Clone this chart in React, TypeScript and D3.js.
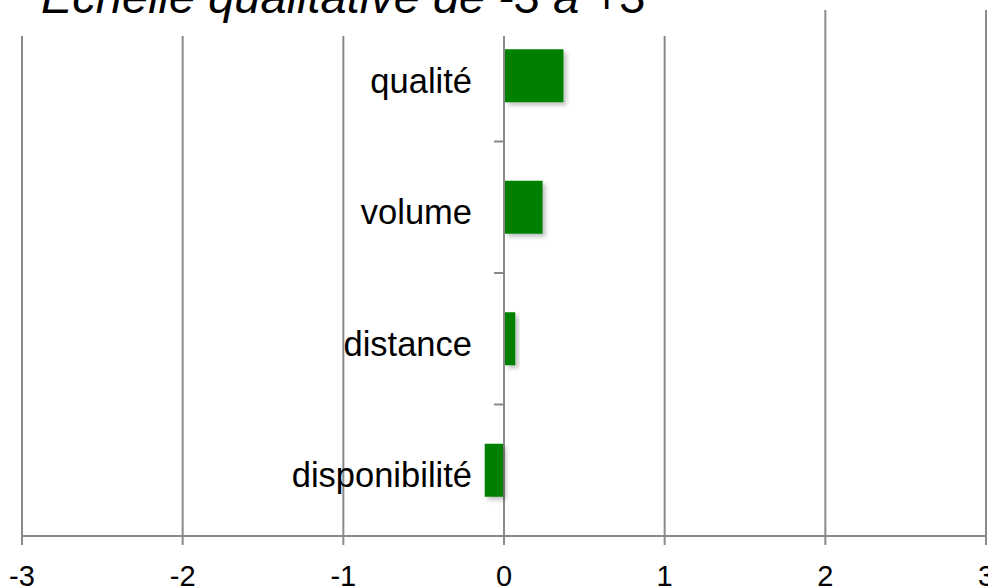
import React from "react";
import * as d3 from "d3";

const categories = ["qualité", "volume", "distance", "disponibilité"];
const values = [0.37, 0.24, 0.07, -0.12];
const xTicks = [-3, -2, -1, 0, 1, 2, 3];
const title = "Echelle qualitative de -3 à +3";

const W = 988;
const H = 587;
const FONT = "'Liberation Sans', Arial, Helvetica, sans-serif";
const GRID = "#8a8a8a";

export default function App() {
  const x = d3.scaleLinear().domain([-3, 3]).range([22, 986]);
  const y = d3
    .scaleBand<string>()
    .domain(categories)
    .range([10, 536])
    .paddingInner(0.597)
    .paddingOuter(0.2985);
  const step = y.step();
  const top = 10;
  const bottom = 536;
  const boundaries = d3.range(1, categories.length + 1).map((i) => top + i * step);

  return (
    <svg
      width={W}
      height={H}
      style={{ position: "absolute", left: 0, top: 0, background: "#fff" }}
    >
      <defs>
        <filter id="shadow" x="-20%" y="-20%" width="160%" height="160%">
          <feDropShadow dx="3" dy="3" stdDeviation="2" floodColor="#000" floodOpacity="0.25" />
        </filter>
      </defs>
      <rect x={0} y={0} width={W} height={H} fill="#fff" />
      {xTicks.map((t) => (
        <line
          key={"g" + t}
          x1={x(t)}
          x2={x(t)}
          y1={top}
          y2={bottom + 9}
          stroke={GRID}
          strokeWidth={2}
        />
      ))}
      <line x1={x(-3)} x2={x(3)} y1={bottom} y2={bottom} stroke={GRID} strokeWidth={2} />
      {boundaries.map((b, i) => (
        <line
          key={"yt" + i}
          x1={x(0) - 10}
          x2={x(0)}
          y1={b}
          y2={b}
          stroke={GRID}
          strokeWidth={2}
        />
      ))}
      {categories.map((c, i) => {
        const v = values[i];
        const x0 = x(Math.min(0, v));
        const x1 = x(Math.max(0, v));
        return (
          <rect
            key={c}
            x={v >= 0 ? x0 + 1 : x0}
            y={y(c)}
            width={Math.max(0, x1 - x0 - 1)}
            height={y.bandwidth()}
            fill="#008000"
            filter="url(#shadow)"
          />
        );
      })}
      {categories.map((c) => (
        <text
          key={"l" + c}
          x={x(0) - 32}
          y={(y(c) as number) + y.bandwidth() / 2 + 17}
          textAnchor="end"
          fontFamily={FONT}
          fontSize={34.5}
          fill="#000"
        >
          {c}
        </text>
      ))}
      {xTicks.map((t) => (
        <text
          key={"xl" + t}
          x={x(t)}
          y={586}
          textAnchor="middle"
          fontFamily={FONT}
          fontSize={29}
          fill="#000"
        >
          {String(t)}
        </text>
      ))}
      <rect x={0} y={0} width={720} height={36} fill="#fff" />
      <text
        x={41}
        y={13}
        fontFamily={FONT}
        fontStyle="italic"
        fontSize={47}
        fill="#000"
      >
        {title}
      </text>
    </svg>
  );
}
